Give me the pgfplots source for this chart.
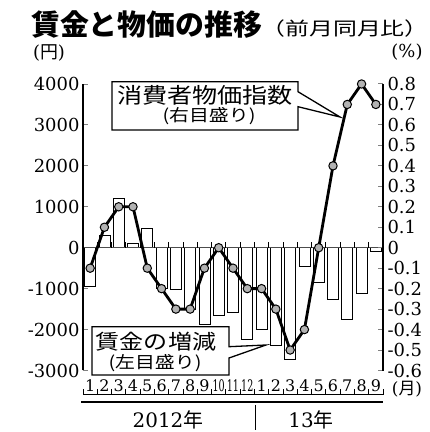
\documentclass[border=0pt]{standalone}
\usepackage{fontspec}
\setmainfont{DejaVu Serif}
\newfontfamily\cjk{Noto Sans CJK JP}
\usepackage{pgfplots}
\pgfplotsset{compat=1.18}
\begin{document}
\begin{tikzpicture}[x=1bp,y=1bp]
\path[use as bounding box] (0,0) rectangle (430,432);
% ---------- wage bars (left axis) ----------
\begin{axis}[
  at={(83bp,61.5bp)}, anchor=south west,
  width=300bp, height=286.5bp, scale only axis,
  xmin=0.5, xmax=21.5, ymin=-3000, ymax=4000,
  axis lines*=left,
  x axis line style={draw=none},
  y axis line style={line width=1.2bp},
  xtick={1,...,21},
  xticklabels={1,2,3,4,5,6,7,8,9,{\scalebox{0.6}[1]{10}},{\scalebox{0.6}[1]{11}},{\scalebox{0.6}[1]{12}},1,2,3,4,5,6,7,8,9},
  x tick style={draw=none},
  xticklabel style={font=\fontsize{16}{16}\selectfont, anchor=center, yshift=-15bp},
  ytick={-3000,-2000,-1000,0,1000,2000,3000,4000},
  yticklabels={-3000,-2000,-1000,0,1000,2000,3000,4000},
  yticklabel style={font=\fontsize{18}{18}\selectfont},
  y tick style={line width=1bp},
  tick align=inside, major tick length=5bp,
  clip=false,
]
\addplot[ybar, bar width=0.77, bar shift=0pt, draw=black, fill=white, line width=0.8bp]
coordinates {
(1,-940) (2,300) (3,1200) (4,100) (5,480) (6,-1000) (7,-1010) (8,-1500) (9,-1880)
(10,-1650) (11,-1580) (12,-2230) (13,-1990) (14,-2390) (15,-2720) (16,-450)
(17,-840) (18,-1270) (19,-1750) (20,-1120) (21,-100)
};
\draw[black!70, line width=0.9bp] (axis cs:0.5,0) -- (axis cs:21.5,0);
\pgfplotsinvokeforeach{0.5,1.5,...,21.5}{
  \draw[line width=0.8bp] (axis cs:#1,0) -- ([yshift=6bp]axis cs:#1,0);
}
\end{axis}
% ---------- CPI line (right axis) ----------
\begin{axis}[
  at={(83bp,61.5bp)}, anchor=south west,
  width=300bp, height=286.5bp, scale only axis,
  xmin=0.5, xmax=21.5, ymin=-0.6, ymax=0.8,
  axis x line=none, axis y line*=right,
  y axis line style={line width=1.2bp},
  ytick={-0.6,-0.5,-0.4,-0.3,-0.2,-0.1,0,0.1,0.2,0.3,0.4,0.5,0.6,0.7,0.8},
  yticklabels={-0.6,-0.5,-0.4,-0.3,-0.2,-0.1,0,0.1,0.2,0.3,0.4,0.5,0.6,0.7,0.8},
  yticklabel style={font=\fontsize{18}{18}\selectfont, xshift=1bp},
  y tick style={line width=1bp},
  tick align=inside, major tick length=5bp,
  clip=false,
]
\addplot[black, line width=2.8bp, mark=*, mark size=4.2bp,
  mark options={fill=gray!60, draw=black, line width=1bp}]
coordinates {
(1,-0.1) (2,0.1) (3,0.2) (4,0.2) (5,-0.1) (6,-0.2) (7,-0.3) (8,-0.3) (9,-0.1)
(10,0.0) (11,-0.1) (12,-0.2) (13,-0.2) (14,-0.3) (15,-0.5) (16,-0.4)
(17,0.0) (18,0.4) (19,0.7) (20,0.8) (21,0.7)
};
\end{axis}
% ---------- titles ----------
\node[anchor=west, inner sep=0] at (31,407) {\cjk\bfseries\fontsize{29}{29}\selectfont 賃金と物価の推移};
\node[anchor=east, inner sep=0] at (429,403) {\scalebox{1.2}[0.92]{\cjk\fontsize{20}{20}\selectfont （前月同月比）}};
\node[inner sep=0] at (49,379) {\fontsize{18}{18}\selectfont (\cjk 円\rmfamily)};
\node[inner sep=0] at (407,380) {\fontsize{18}{18}\selectfont (\%)};
% ---------- callout boxes ----------
\draw[line width=1.3bp, fill=white] (112,350.3) -- (298,350.3) -- (298,340.3) -- (340,315) -- (298,325.3) -- (298,302) -- (112,302) -- cycle;
\node[inner sep=0] at (205,337) {\scalebox{1.05}[0.9]{\cjk\fontsize{24}{24}\selectfont 消費者物価指数}};
\node[inner sep=0] at (209,315.5) {\scalebox{1.05}[0.88]{\cjk\fontsize{19}{19}\selectfont (右目盛り)}};
\draw[line width=1.3bp, fill=white] (92,105.3) -- (229,105.3) -- (229,85.3) -- (266,87) -- (229,74) -- (229,57) -- (92,57) -- cycle;
\node[inner sep=0] at (156,90) {\scalebox{1.05}[0.9]{\cjk\fontsize{23}{23}\selectfont 賃金の増減}};
\node[inner sep=0] at (155,68.5) {\scalebox{1.05}[0.88]{\cjk\fontsize{19}{19}\selectfont (左目盛り)}};
% ---------- bottom axis decoration ----------
\draw[line width=1bp] (83,37) -- (383,37);
\foreach \k in {0,...,21} { \draw[line width=0.9bp] ({83+14.2857*\k},37) -- ++(0,6); }
\draw[line width=1.8bp] (81,30) -- (383,30);
\draw[line width=1bp] (255,27) -- (255,2);
\node[inner sep=0] at (168,12) {\fontsize{20}{20}\selectfont 2012\cjk 年};
\node[inner sep=0] at (311,12) {\fontsize{20}{20}\selectfont 13\cjk 年};
\node[inner sep=0] at (407,42.5) {\fontsize{17}{17}\selectfont (\cjk 月\rmfamily)};
\end{tikzpicture}
\end{document}
